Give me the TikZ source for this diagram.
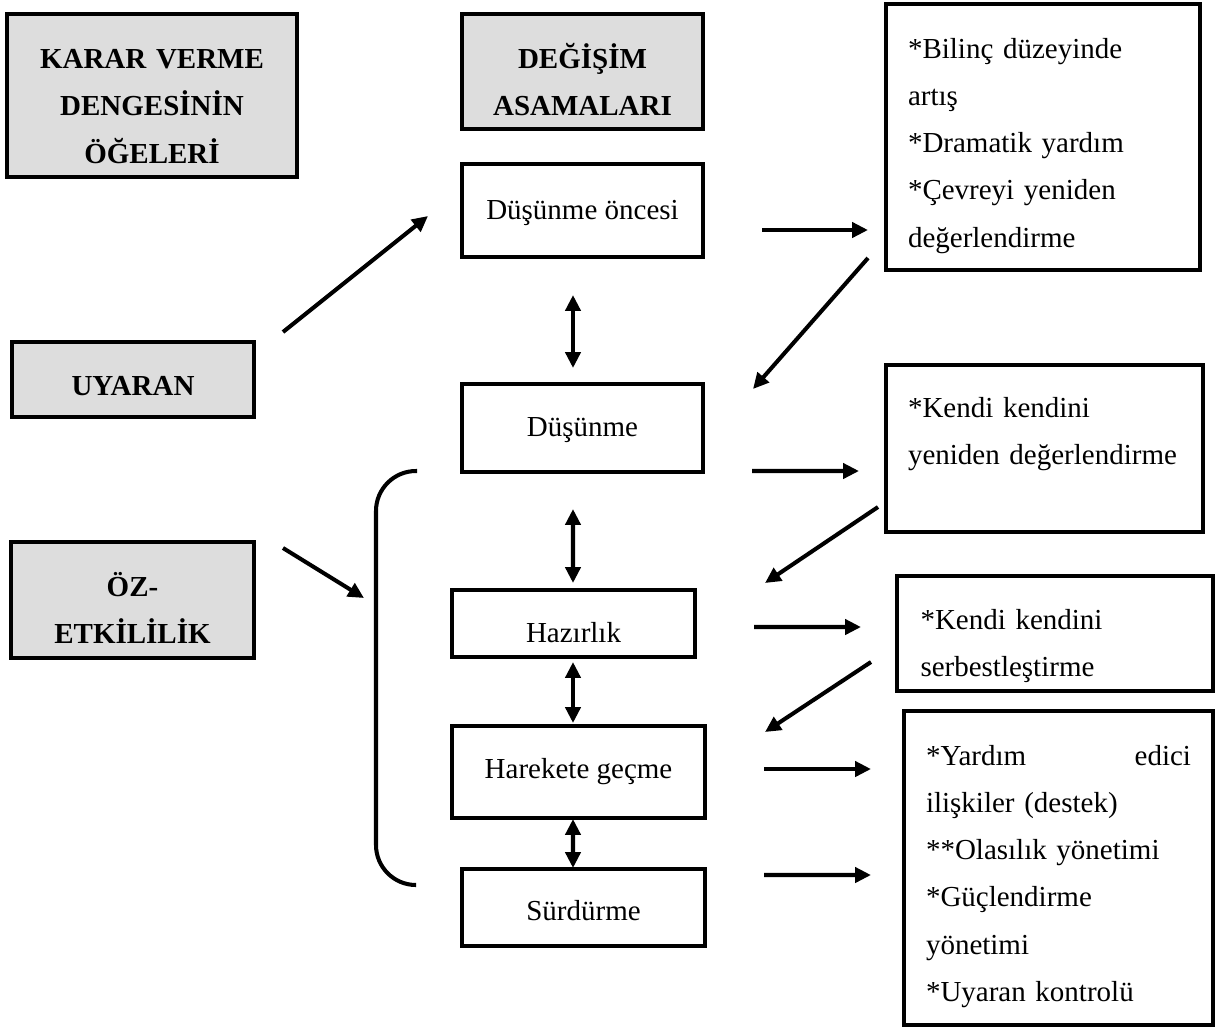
\documentclass[tikz,border=0pt]{standalone}
\usepackage{fontspec}
\setmainfont{Liberation Serif}
\usepackage{tikz}
\usetikzlibrary{arrows.meta}
\definecolor{boxgrey}{HTML}{DDDDDD}

\begin{document}
\begin{tikzpicture}[
        >={Triangle[length=9pt, width=8.5pt]},
        box/.style={draw, line width=2.3pt, inner sep=0pt, outer sep=0pt, align=center,
            font=\fontsize{16.5}{26.9}\selectfont},
        grey box/.style={box, fill=boxgrey, font=\bfseries\fontsize{16.5}{26.9}\selectfont},
        list box/.style={box, align=left},
        arr/.style={line width=2.3pt, ->},
        twoway/.style={line width=2.3pt, <->}]
        \useasboundingbox (0,0) rectangle (24.3,-20.54);
        \node[grey box, minimum width=5.8cm, minimum height=3.26cm, text width=5.4cm,
            text height=0pt, text depth=1.08cm] (karar) at (3.04,-1.91) {KARAR VERME\\DENGESİNİN\\ÖĞELERİ};
        \node[grey box, minimum width=4.82cm, minimum height=2.3cm, text width=4.5cm,
            text height=0pt, text depth=0.12cm] (degisim) at (11.65,-1.43) {DEĞİŞİM\\ASAMALARI};
        \node[grey box, minimum width=4.84cm, minimum height=1.5cm,
            text height=0.64cm, text depth=0pt] (uya) at (2.66,-7.59) {UYARAN};
        \node[grey box, minimum width=4.86cm, minimum height=2.32cm, text width=4.5cm,
            text height=0pt, text depth=0.14cm] (oz) at (2.65,-12.0) {ÖZ-\\ETKİLİLİK};
        \node[box, minimum width=4.82cm, minimum height=1.86cm,
            text height=0.34cm, text depth=0pt] (pre) at (11.65,-4.21) {Düşünme öncesi};
        \node[box, minimum width=4.82cm, minimum height=1.76cm,
            text height=0.32cm, text depth=0pt] (dus) at (11.65,-8.56) {Düşünme};
        \node[box, minimum width=4.86cm, minimum height=1.34cm,
            text height=0.74cm, text depth=0pt] (haz) at (11.47,-12.47) {Hazırlık};
        \node[box, minimum width=5.06cm, minimum height=1.84cm,
            text height=0.24cm, text depth=0pt] (har) at (11.57,-15.44) {Harekete geçme};
        \node[box, minimum width=4.86cm, minimum height=1.54cm,
            text height=0.5cm, text depth=0pt] (sur) at (11.67,-18.15) {Sürdürme};
        \node[list box, minimum width=6.28cm, minimum height=5.32cm, text width=5.4cm,
            text height=0pt, text depth=3.16cm] (b1) at (20.86,-2.74)
            {*Bilinç düzeyinde\\artış\\{*}Dramatik yardım\\{*}Çevreyi yeniden\\değerlendirme};
        \node[list box, minimum width=6.34cm, minimum height=3.34cm, text width=5.46cm,
            text height=0pt, text depth=1.26cm] (b2) at (20.89,-8.97)
            {*Kendi kendini\\yeniden değerlendirme};
        \node[list box, minimum width=6.32cm, minimum height=2.3cm, text width=5.38cm,
            text height=0pt, text depth=0.18cm] (b3) at (21.1,-12.67)
            {*Kendi kendini\\serbestleştirme};
        \node[list box, minimum width=6.18cm, minimum height=6.28cm, text width=5.3cm,
            text height=0pt, text depth=4.12cm] (b4) at (21.17,-17.36)
            {*Yardım\hfill edici\\ilişkiler (destek)\\{**}Olasılık yönetimi\\{*}Güçlendirme\\yönetimi\\{*}Uyaran kontrolü};
        \draw[arr] ([shift={(0.58,0.2)}]uya.north east) -- ([shift={(-0.68,-0.11)}]pre.west);
        \draw[arr] ([shift={(1.18,-0.39)}]pre.east) -- ([shift={(-0.36,-1.86)}]b1.west);
        \draw[arr] ([shift={(-0.36,0.24)}]b1.south west) -- ([shift={(1.0,-0.1)}]dus.north east);
        \draw[twoway] ([shift={(-0.19,-0.76)}]pre.south) -- ([shift={(-0.19,0.32)}]dus.north);
        \draw[arr] ([shift={(0.98,0.02)}]dus.south east) -- ([shift={(-0.54,-0.45)}]b2.west);
        \draw[arr] ([shift={(-0.16,0.5)}]b2.south west) -- ([shift={(1.4,0.14)}]haz.north east);
        \draw[twoway] ([shift={(-0.19,-0.74)}]dus.south) -- ([shift={(-0.01,0.14)}]haz.north);
        \draw[arr] ([shift={(0.58,-0.12)}]oz.north east) -- ([shift={(2.2,0.04)}]oz.east);
        \draw[arr] ([shift={(1.18,-0.07)}]haz.east) -- ([shift={(-0.72,0.13)}]b3.west);
        \draw[arr] ([shift={(-0.52,0.58)}]b3.south west) -- ([shift={(1.2,-0.12)}]har.north east);
        \draw[twoway] ([shift={(-0.01,-0.1)}]haz.south) -- ([shift={(-0.11,0.06)}]har.north);
        \draw[arr] ([shift={(1.18,0.06)}]har.east) -- ([shift={(-0.66,1.98)}]b4.west);
        \draw[twoway] ([shift={(-0.11,-0.02)}]har.south) -- ([shift={(-0.21,0.02)}]sur.north);
        \draw[arr] ([shift={(1.18,0.65)}]sur.east) -- ([shift={(-0.66,-0.14)}]b4.west);
        \draw[line width=2.3pt, rounded corners=0.8cm] (8.34,-9.42) -- (7.52,-9.42) -- (7.52,-17.7) -- (8.32,-17.7);
\end{tikzpicture}
\end{document}
